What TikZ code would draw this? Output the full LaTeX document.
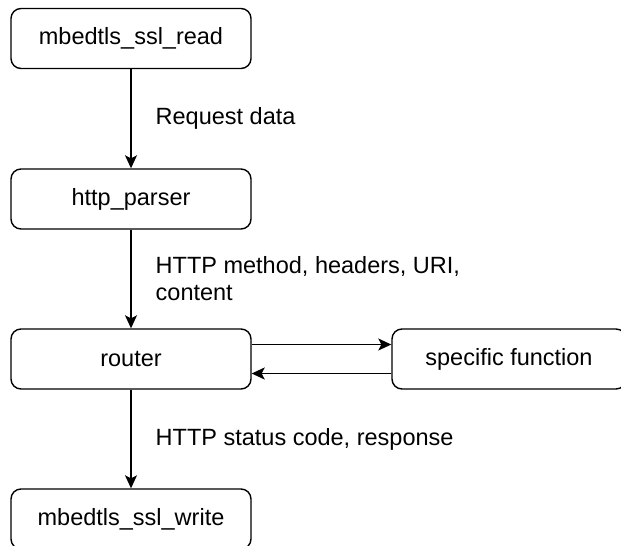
\documentclass[tikz,border=0pt]{standalone}
\usepackage{fontspec}
\setmainfont{Liberation Sans}
\usepackage{tikz}
\usetikzlibrary{arrows.meta, positioning}

\begin{document}
\begin{tikzpicture}[
    x=1pt, y=1pt,
    fnbox/.style={rectangle, draw, rounded corners=10pt, line width=1.4pt, minimum width=240pt, minimum height=60pt, align=center, font=\fontsize{23.5}{27}\selectfont},
    arrow/.style={-{Stealth[length=13pt, width=12pt, inset=3pt]}, line width=1.4pt},
    lbl/.style={font=\fontsize{23.5}{27}\selectfont, align=left, inner sep=0pt}
]

%% ── Frame (the reference cuts the lower and right boxes) ─────────────
\useasboundingbox (0,0) rectangle (621,-546);
\clip (0,0) rectangle (621,-546);

%% ── Main column (all at x = 131) ─────────────────────────────────────
\node[fnbox] (sslread)  at (131, -38.5) {mbedtls\_ssl\_read};
\node[fnbox] (parser)   at (131, -199)  {http\_parser};
\node[fnbox] (router)   at (131, -359)  {router};
\node[fnbox] (sslwrite) at (131, -519)  {mbedtls\_ssl\_write};

%% ── Side box ─────────────────────────────────────────────────────────
\node[fnbox, minimum width=234pt] (specfn) at (509, -359) {specific function};

%% ── Arrows ───────────────────────────────────────────────────────────
\draw[arrow] (sslread.south) -- node[lbl, right=24pt]{Request data} (parser.north);
\draw[arrow] (parser.south)  -- node[lbl, right=24pt]{HTTP method, headers, URI,\\content} (router.north);
\draw[arrow] (router.south)  -- node[lbl, right=24pt]{HTTP status code, response} (sslwrite.north);

%% router <-> specific function
\draw[arrow] ([yshift=14.5pt]router.east) -- ([yshift=14.5pt]specfn.west);
\draw[arrow] ([yshift=-14.5pt]specfn.west) -- ([yshift=-14.5pt]router.east);

\end{tikzpicture}
\end{document}
